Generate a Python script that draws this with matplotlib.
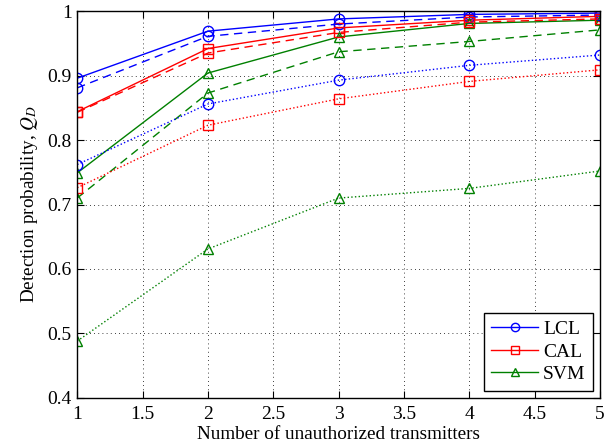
import matplotlib
matplotlib.use('Agg')
import matplotlib.pyplot as plt

plt.rcParams['font.family'] = ['Liberation Serif', 'DejaVu Serif']
plt.rcParams['mathtext.fontset'] = 'stix'

x = [1, 2, 3, 4, 5]

# LCL
lcl_solid = [0.896, 0.969, 0.988, 0.995, 0.997]
lcl_dash = [0.881, 0.961, 0.980, 0.991, 0.994]
lcl_dot = [0.762, 0.856, 0.893, 0.916, 0.932]

# CAL
cal_solid = [0.844, 0.942, 0.974, 0.986, 0.992]
cal_dash = [0.843, 0.935, 0.967, 0.983, 0.988]
cal_dot = [0.726, 0.823, 0.864, 0.891, 0.909]

# SVM
svm_solid = [0.749, 0.904, 0.960, 0.981, 0.986]
svm_dash = [0.710, 0.873, 0.937, 0.953, 0.971]
svm_dot = [0.488, 0.631, 0.710, 0.725, 0.752]

fig = plt.figure(figsize=(6.08, 4.47), dpi=100)
ax = fig.add_axes([0.127, 0.110, 0.860, 0.865])

blue, red, green = '#0000ff', '#ff0000', '#008000'
mk = dict(markersize=7.5, markerfacecolor='none', markeredgewidth=1.0, linewidth=1.0)

ax.plot(x, lcl_solid, '-o', color=blue, label='LCL', **mk)
ax.plot(x, cal_solid, '-s', color=red, label='CAL', **mk)
ax.plot(x, svm_solid, '-^', color=green, label='SVM', **mk)

ax.plot(x, lcl_dash, '--o', color=blue, dashes=(6, 4), **mk)
ax.plot(x, cal_dash, '--s', color=red, dashes=(6, 4), **mk)
ax.plot(x, svm_dash, '--^', color=green, dashes=(6, 4), **mk)

ax.plot(x, lcl_dot, ':o', color=blue, **mk)
ax.plot(x, cal_dot, ':s', color=red, **mk)
ax.plot(x, svm_dot, ':^', color=green, **mk)

ax.set_xlim(1, 5)
ax.set_ylim(0.4, 1)
ax.set_xticks([1, 1.5, 2, 2.5, 3, 3.5, 4, 4.5, 5])
ax.set_xticklabels(['1', '1.5', '2', '2.5', '3', '3.5', '4', '4.5', '5'])
ax.set_yticks([0.4, 0.5, 0.6, 0.7, 0.8, 0.9, 1])
ax.set_yticklabels(['0.4', '0.5', '0.6', '0.7', '0.8', '0.9', '1'])
ax.tick_params(direction='in', top=True, right=True, labelsize=14, length=5)
ax.tick_params(axis='x', pad=6)
ax.tick_params(axis='y', pad=4)
ax.grid(True, linestyle=(0, (1, 4)), color='black', linewidth=0.6)
for s in ax.spines.values():
    s.set_linewidth(1.0)

ax.set_xlabel('Number of unauthorized transmitters', fontsize=13.8, labelpad=2)
ax.set_ylabel('Detection probability, $Q_D$', fontsize=13.8, labelpad=5)

leg = ax.legend(loc='lower right', fontsize=14, fancybox=False, framealpha=1,
                edgecolor='black', borderaxespad=0.35, handlelength=2.4,
                handletextpad=0.25, labelspacing=0.25, markerscale=0.8,
                borderpad=0.4)
leg.get_frame().set_linewidth(1.0)

fig.savefig('out.png', dpi=100)
